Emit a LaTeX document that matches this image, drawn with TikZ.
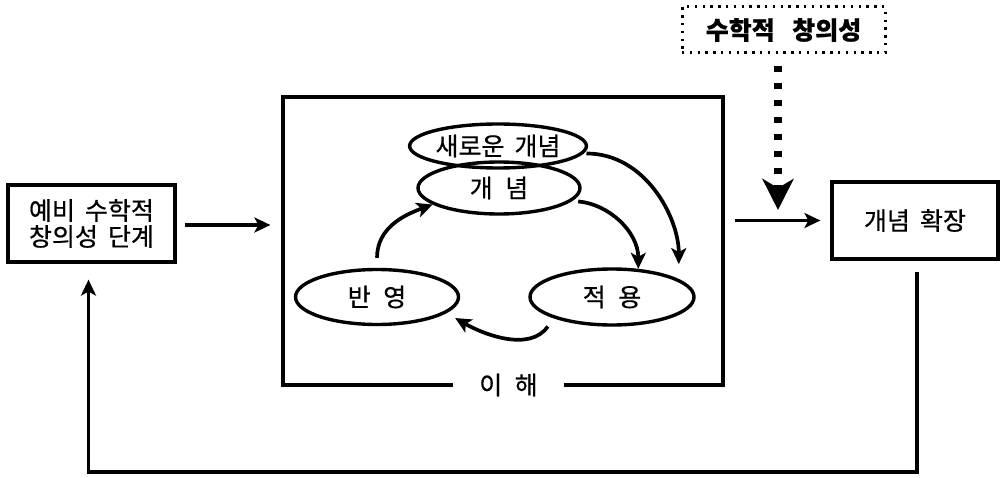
\documentclass[tikz,border=0pt]{standalone}
\usepackage{fontspec}
\setmainfont{Noto Sans CJK KR}[FakeBold=0.6]
\usetikzlibrary{arrows.meta,shapes.geometric}
% word gaps inside the Korean labels
\newcommand\wgap{\hspace{0.4em}}
\newcommand\lgap{\hspace{0.5em}}
\begin{document}
\begin{tikzpicture}[x=1pt,y=1pt,
  line width=3.2pt,
  every node/.style={font=\fontsize{25}{26}\selectfont},
  box/.style={draw, rectangle, align=center, inner sep=0pt},
  oval/.style={draw, ellipse, inner sep=0pt, line width=3.4pt},
  tip/.style={-{Stealth[length=16pt,width=15pt,inset=4pt]}},
  cyc/.style={tip, line width=3.7pt},
  bigdots/.style={line width=8pt, dash pattern=on 6pt off 11pt,
    -{Stealth[length=31pt,width=31pt,inset=9pt]}},
  dotbox/.style={draw, rectangle, inner sep=0pt, line width=3pt,
    dash pattern=on 2.4pt off 5.4pt},
]
\useasboundingbox (0,0) rectangle (1000,477);

% outer stages
\node[box, minimum width=167pt, minimum height=77pt] (pre) at (91.5,253.5)
  {예비\wgap 수학적\\창의성\wgap 단계};
\node[box, minimum width=166pt, minimum height=77pt] (ext) at (915,256.5)
  {개념\wgap 확장};
\node[dotbox, minimum width=203pt, minimum height=46pt] (cre) at (783.5,447)
  {\fontsize{25}{27}\selectfont\bfseries 수학적\hspace{0.7em}창의성};

% understanding frame with its caption
\node[draw, minimum width=440pt, minimum height=288pt] (frame) at (503,236) {};
\node[fill=white, inner xsep=26pt, inner ysep=4pt] (und) at (508.5,92) {이\lgap 해};

% cycle inside the frame
\node[oval, minimum width=162pt, minimum height=52pt] (con) at (499,289) {개\lgap 념};
\node[oval, minimum width=162pt, minimum height=44pt] (new) at (498,331) {새로운\wgap 개념};
\node[oval, minimum width=163pt, minimum height=55pt] (ref) at (377,180) {반\lgap 영};
\node[oval, minimum width=164pt, minimum height=56pt] (app) at (612,180) {적\lgap 용};

\draw[cyc] ([yshift=10pt]ref.north) to[out=90, in=200] (con.194);
\draw[cyc, shorten <=6pt] (con.-10) to[out=-5, in=90] (app.47);
\draw[cyc, shorten <=3pt, shorten >=15pt] (new.-5) to[out=0, in=90] (app.15);
\draw[cyc, shorten <=10pt, shorten >=10pt] (app.200) to[out=235, in=-30] (ref.-13);

% flow between the stages
\draw[tip, shorten <=8pt, shorten >=11pt] (pre.east |- 0,252) -- (frame.west |- 0,252);
\draw[tip, shorten <=10pt, shorten >=10pt] (frame.east |- ext.west) -- (ext.west);
\coordinate (drop) at (778,267);
\draw[bigdots, shorten <=12pt] (cre.south -| drop) -- (drop);

% feedback loop back to the first stage
\coordinate (bot) at (0,5);
\draw[tip, shorten <=11pt, shorten >=16pt] ([xshift=2pt]ext.south) -- ([xshift=2pt]ext.south |- bot)
  -| ([xshift=-3pt]pre.south);
\end{tikzpicture}
\end{document}
